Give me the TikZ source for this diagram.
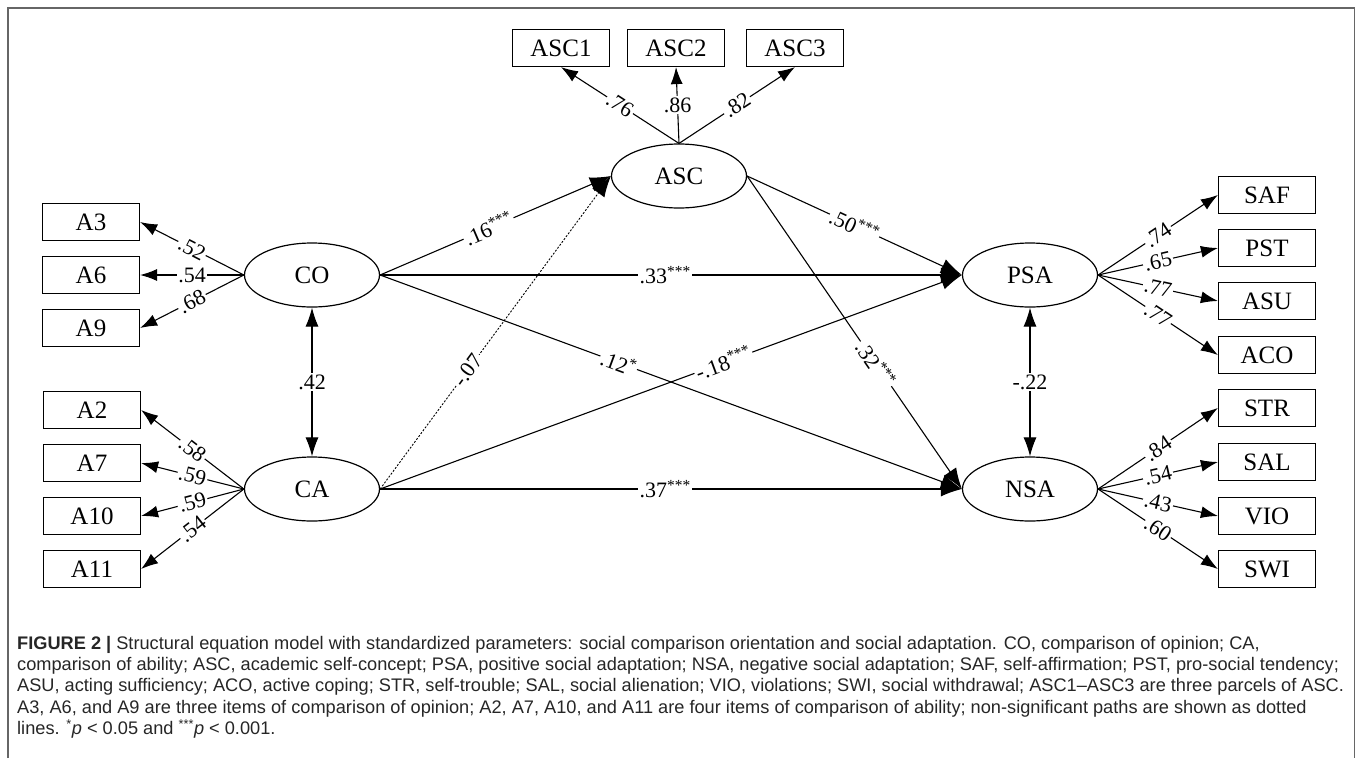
\documentclass[tikz,border=0pt]{standalone}
\usepackage{fontspec}
\setmainfont{Liberation Serif}
\newfontfamily\captionfont{Liberation Sans}
\usetikzlibrary{arrows.meta,shapes.geometric}

\tikzset{
  item/.style={draw, rectangle, line width=1.2pt, minimum width=97pt, minimum height=37pt, inner sep=0pt, font=\fontsize{25}{30}\selectfont},
  factor/.style={draw, ellipse, line width=1.2pt, minimum width=135pt, minimum height=64pt, inner sep=0pt, font=\fontsize{25}{30}\selectfont},
  loading/.style={line width=1.1pt, -{Latex[length=17pt,width=12pt]}},
  effect/.style={line width=1.1pt, -{Latex[length=21pt,width=15pt]}},
  nseffect/.style={effect, line width=0.9pt, dash pattern=on 2pt off 1.6pt},
  corr/.style={line width=1.1pt, {Latex[length=19pt,width=13pt]}-{Latex[length=19pt,width=13pt]}},
  coef/.style={fill=white, inner sep=1.5pt, font=\fontsize{22}{24}\selectfont},
}

\begin{document}
\begin{tikzpicture}[x=1pt,y=-1pt]
  %%%%% START %%%%%
  \useasboundingbox (0,0) rectangle (1357,758);
  \draw[line width=1.6pt, black!60] (8,758) -- (8,8) -- (1354.5,8) -- (1354.5,758);

  % latent factors
  \node[factor] (ASC) at (679,176) {ASC};
  \node[factor] (CO) at (312,275) {CO};
  \node[factor] (CA) at (312,489) {CA};
  \node[factor] (PSA) at (1030,275) {PSA};
  \node[factor] (NSA) at (1030,489) {NSA};

  % indicators
  \node[item] (ASC1) at (561,48) {ASC1};
  \node[item] (ASC2) at (676,48) {ASC2};
  \node[item] (ASC3) at (795,48) {ASC3};

  \node[item] (A3) at (91,222) {A3};
  \node[item] (A6) at (91,275) {A6};
  \node[item] (A9) at (91,328) {A9};

  \node[item] (A2) at (92,410) {A2};
  \node[item] (A7) at (92,463) {A7};
  \node[item] (A10) at (92,516) {A10};
  \node[item] (A11) at (92,569) {A11};

  \node[item] (SAF) at (1267,195) {SAF};
  \node[item] (PST) at (1267,248) {PST};
  \node[item] (ASU) at (1267,301) {ASU};
  \node[item] (ACO) at (1267,355) {ACO};
  \node[item] (STR) at (1267,408) {STR};
  \node[item] (SAL) at (1267,462) {SAL};
  \node[item] (VIO) at (1267,516) {VIO};
  \node[item] (SWI) at (1267,569) {SWI};

  % loadings
  \draw[loading] (ASC.north) -- node[coef,sloped] {.76} (ASC1.south);
  \draw[loading] (ASC.north) -- node[coef] {.86} (ASC2.south);
  \draw[loading] (ASC.north) -- node[coef,sloped] {.82} (ASC3.south);

  \draw[loading] (CO.west) -- node[coef,sloped] {.52} (A3.east);
  \draw[loading] (CO.west) -- node[coef,sloped] {.54} (A6.east);
  \draw[loading] (CO.west) -- node[coef,sloped] {.68} (A9.east);

  \draw[loading] (CA.west) -- node[coef,sloped] {.58} (A2.east);
  \draw[loading] (CA.west) -- node[coef,sloped] {.59} (A7.east);
  \draw[loading] (CA.west) -- node[coef,sloped] {.59} (A10.east);
  \draw[loading] (CA.west) -- node[coef,sloped] {.54} (A11.east);

  \draw[loading] (PSA.east) -- node[coef,sloped] {.74} (SAF.west);
  \draw[loading] (PSA.east) -- node[coef,sloped] {.65} (PST.west);
  \draw[loading] (PSA.east) -- node[coef,sloped] {.77} (ASU.west);
  \draw[loading] (PSA.east) -- node[coef,sloped] {.77} (ACO.west);

  \draw[loading] (NSA.east) -- node[coef,sloped] {.84} (STR.west);
  \draw[loading] (NSA.east) -- node[coef,sloped] {.54} (SAL.west);
  \draw[loading] (NSA.east) -- node[coef,sloped] {.43} (VIO.west);
  \draw[loading] (NSA.east) -- node[coef,sloped] {.60} (SWI.west);

  % structural paths
  \draw[effect] (CO.east) -- node[coef,sloped,pos=0.47] {.16\textsuperscript{***}} (ASC.west);
  \draw[effect] (CO.east) -- node[coef,pos=0.49] {.33\textsuperscript{***}} (PSA.west);
  \draw[effect] (CO.east) -- node[coef,sloped,pos=0.41] {.12\textsuperscript{*}} (NSA.west);
  \draw[nseffect] (CA.east) -- node[coef,sloped,pos=0.38] {-.07} (ASC.west);
  \draw[effect] (CA.east) -- node[coef,sloped,pos=0.59] {-.18\textsuperscript{***}} (PSA.west);
  \draw[effect] (CA.east) -- node[coef,pos=0.49] {.37\textsuperscript{***}} (NSA.west);
  \draw[effect] (ASC.east) -- node[coef,sloped,pos=0.5] {.50\textsuperscript{***}} (PSA.west);
  \draw[effect] (ASC.east) -- node[coef,sloped,pos=0.6] {.32\textsuperscript{***}} (NSA.west);

  % correlations
  \draw[corr] (CO.south) -- node[coef] {.42} (CA.north);
  \draw[corr] (PSA.south) -- node[coef] {-.22} (NSA.north);

  % caption
  \node[anchor=north west, align=left, inner sep=0pt, text=black!85,
        font=\captionfont\fontsize{18.2}{21.3}\selectfont] (caption) at (17,636)
  {\textbf{FIGURE 2 |} Structural equation model with standardized parameters: social comparison orientation and social adaptation. CO, comparison of opinion; CA,\\
   comparison of ability; ASC, academic self-concept; PSA, positive social adaptation; NSA, negative social adaptation; SAF, self-affirmation; PST, pro-social tendency;\\
   ASU, acting sufficiency; ACO, active coping; STR, self-trouble; SAL, social alienation; VIO, violations; SWI, social withdrawal; ASC1–ASC3 are three parcels of ASC.\\
   A3, A6, and A9 are three items of comparison of opinion; A2, A7, A10, and A11 are four items of comparison of ability; non-significant paths are shown as dotted\\
   lines. \textsuperscript{*}\textit{p} < 0.05 and \textsuperscript{***}\textit{p} < 0.001.};
  %%%%% END %%%%%
\end{tikzpicture}
\end{document}
